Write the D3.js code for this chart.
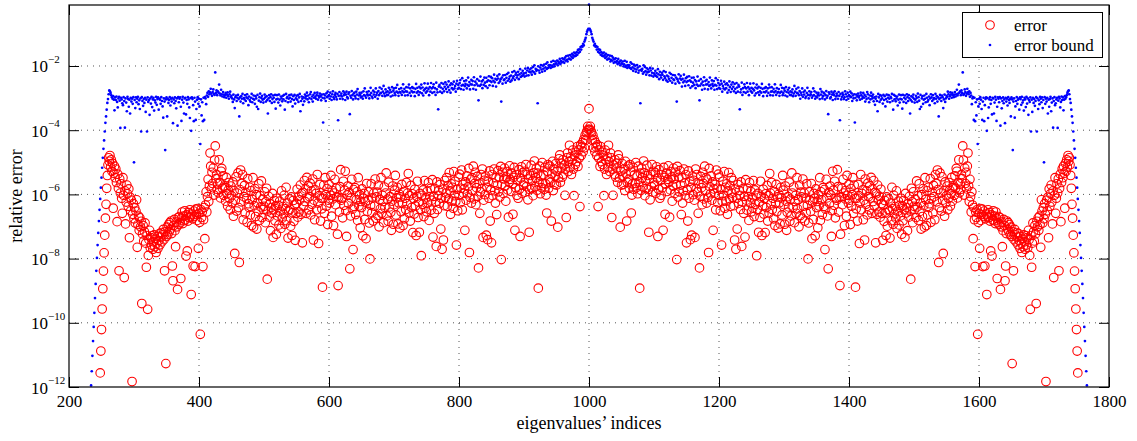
<!DOCTYPE html>
<head>
  <meta charset="utf-8">
  <script src="https://d3js.org/d3.v7.min.js"></script>
  <style>
    body { margin:0; background:#fff; }
    text { font-family: "Liberation Serif", "Times New Roman", serif; fill:#000; }
    .grid line { stroke:#555; stroke-width:1; stroke-dasharray:1,5; }
  </style>
</head>
<body>
<script>
// values are log10 of the relative error, in hundredths of a decade (-600 -> 1e-6)
// left arrays end at index 999, right arrays start at index 1001
var peakIndex = 1000;
var errorPeak = -333;
var boundPeak = -9;

var errorLeft = [
-1156,-1088,
-1021,-957,-894,-839,-782,-727,-674,-631,-581,-541,
-508,-486,-497,-479,-515,-492,-528,-503,-643,-534,
-512,-548,-521,-563,-685,-537,-581,-838,-552,-596,
-567,-612,-659,-548,-603,-859,-589,-692,-624,-571,
-598,-637,-583,-735,-609,-651,-618,-1183,-662,-629,
-676,-641,-689,-652,-617,-765,-694,-668,-712,-673,
-701,-684,-940,-723,-697,-745,-716,-689,-752,-827,
-728,-958,-790,-741,-712,-766,-735,-758,-729,-771,
-748,-726,-763,-739,-781,-752,-731,-768,-744,-722,
-757,-733,-719,-748,-726,-709,-741,-838,-717,-1127,
-731,-702,-725,-694,-716,-688,-709,-683,-722,-823,
-869,-697,-678,-713,-763,-686,-701,-896,-672,-694,
-669,-688,-862,-674,-655,-691,-668,-682,-651,-679,
-792,-664,-776,-683,-657,-672,-648,-669,-912,-661,
-676,-823,-652,-669,-825,-646,-663,-681,-644,-768,
-659,-687,-1036,-648,-672,-655,-825,-679,-641,-738,
-633,-592,-655,-607,-553,-622,-574,-471,-512,-583,
-531,-566,-518,-602,-493,-449,-551,-538,-584,-567,
-595,-492,-563,-611,-528,-519,-581,-542,-603,-574,
-579,-621,-547,-598,-636,-587,-563,-612,-648,-574,
-604,-627,-561,-668,-589,-784,-618,-545,-652,-596,
-533,-641,-812,-585,-524,-623,-566,-538,-679,-607,
-572,-658,-594,-613,-687,-551,-629,-641,-578,-664,
-589,-697,-616,-548,-702,-635,-582,-669,-601,-708,
-626,-653,-567,-681,-604,-639,-558,-672,-615,-647,
-637,-592,-688,-623,-581,-864,-652,-606,-671,-629,
-713,-641,-658,-597,-734,-648,-619,-682,-636,-724,
-612,-667,-634,-695,-621,-653,-706,-589,-674,-638,
-661,-603,-693,-645,-578,-682,-627,-736,-651,-614,
-646,-699,-608,-728,-657,-619,-684,-633,-743,-659,
-628,-584,-671,-606,-655,-617,-571,-662,-598,-751,
-594,-636,-557,-622,-583,-659,-547,-611,-573,-648,
-607,-565,-664,-589,-631,-552,-742,-618,-679,-586,
-597,-648,-538,-627,-753,-604,-569,-683,-612,-645,
-889,-612,-571,-659,-548,-601,-637,-582,-694,-618,
-569,-627,-603,-541,-668,-588,-614,-697,-596,-553,
-632,-581,-608,-724,-884,-609,-655,-576,-523,-618,
-612,-673,-559,-634,-587,-528,-651,-731,-602,-574,
-628,-594,-832,-667,-611,-553,-646,-772,-585,-638,
-579,-663,-617,-592,-681,-548,-636,-601,-704,-622,
-641,-583,-729,-612,-597,-678,-624,-738,-566,-653,
-618,-592,-689,-801,-634,-567,-657,-611,-683,-596,
-637,-552,-674,-608,-593,-666,-571,-701,-616,-645,
-548,-659,-603,-622,-688,-577,-641,-596,-533,-667,
-615,-684,-562,-639,-607,-656,-712,-621,-574,-693,
-632,-587,-541,-664,-611,-578,-692,-626,-599,-705,
-608,-654,-569,-627,-697,-591,-676,-612,-647,-563,
-629,-596,-535,-658,-604,-683,-572,-641,-598,-719,
-613,-661,-584,-636,-728,-606,-559,-672,-624,-718,
-597,-648,-791,-603,-631,-586,-669,-557,-642,-611,
-654,-591,-626,-563,-681,-607,-582,-649,-618,-554,
-733,-606,-659,-582,-624,-762,-561,-647,-603,-588,
-628,-569,-708,-612,-771,-584,-742,-635,-557,-609,
-596,-548,-637,-573,-614,-532,-589,-662,-567,-621,
-578,-643,-529,-604,-559,-622,-758,-584,-651,-546,
-603,-537,-626,-581,-524,-648,-569,-597,-583,-712,
-561,-618,-542,-598,-576,-519,-781,-609,-553,-627,
-548,-589,-512,-614,-566,-531,-632,-579,-544,-606,
-829,-567,-659,-592,-538,-583,-521,-734,-618,-556,
-601,-543,-727,-578,-741,-559,-612,-527,-683,-586,
-751,-538,-604,-565,-521,-589,-627,-548,-663,-571,
-526,-592,-547,-608,-513,-803,-569,-531,-597,-552,
-518,-574,-621,-546,-529,-586,-671,-562,-511,-553,
-591,-534,-568,-662,-547,-516,-712,-579,-538,-603,
-556,-612,-523,-584,-731,-549,-514,-597,-532,-571,
-564,-528,-593,-507,-576,-538,-617,-552,-718,-585,
-541,-509,-582,-557,-604,-533,-496,-576,-548,-518,
-587,-534,-892,-561,-512,-598,-543,-579,-501,-566,
-539,-584,-516,-567,-602,-658,-528,-507,-581,-553,
-512,-562,-683,-536,-497,-588,-521,-569,-543,-504,
-571,-528,-702,-549,-489,-477,-562,-518,-503,-546,
-492,-537,-508,-603,-521,-672,-486,-471,-529,-498,
-447,-516,-482,-538,-493,-462,-521,-604,-478,-507,
-469,-498,-451,-513,-462,-487,-638,-446,-479,-452,
-438,-467,-429,-455,-416,-431,-408,-402,-388,-397
];

var errorRight = [
-397,-388,-402,-408,-431,-416,-455,-429,-467,-438,
-452,-479,-446,-638,-487,-462,-513,-451,-498,-469,
-507,-478,-604,-521,-462,-493,-538,-482,-516,-447,
-498,-529,-471,-486,-672,-521,-603,-508,-537,-492,
-546,-503,-518,-562,-477,-489,-549,-702,-528,-571,
-504,-543,-569,-521,-588,-497,-536,-683,-562,-512,
-553,-581,-507,-528,-658,-602,-567,-516,-584,-539,
-566,-501,-579,-543,-598,-512,-561,-892,-534,-587,
-518,-548,-576,-496,-533,-604,-557,-582,-509,-541,
-585,-718,-552,-617,-538,-576,-507,-593,-528,-564,
-571,-532,-597,-514,-549,-731,-584,-523,-612,-556,
-603,-538,-579,-712,-516,-547,-662,-568,-534,-591,
-553,-511,-562,-671,-586,-529,-546,-621,-574,-518,
-552,-597,-531,-569,-803,-513,-608,-547,-592,-526,
-571,-663,-548,-627,-589,-521,-565,-604,-538,-751,
-586,-683,-527,-612,-559,-741,-578,-727,-543,-601,
-556,-618,-734,-521,-583,-538,-592,-659,-567,-829,
-606,-544,-579,-632,-531,-566,-614,-512,-589,-548,
-627,-553,-609,-781,-519,-576,-598,-542,-618,-561,
-712,-583,-597,-569,-648,-524,-581,-626,-537,-603,
-546,-651,-584,-758,-622,-559,-604,-529,-643,-578,
-621,-567,-662,-589,-532,-614,-573,-637,-548,-596,
-609,-557,-635,-742,-584,-771,-612,-708,-569,-628,
-588,-603,-647,-561,-762,-624,-582,-659,-606,-733,
-554,-618,-649,-582,-607,-681,-563,-626,-591,-654,
-611,-642,-557,-669,-586,-631,-603,-791,-648,-597,
-718,-624,-672,-559,-606,-728,-636,-584,-661,-613,
-719,-598,-641,-572,-683,-604,-658,-535,-596,-629,
-563,-647,-612,-676,-591,-697,-627,-569,-654,-608,
-705,-599,-626,-692,-578,-611,-664,-541,-587,-632,
-693,-574,-621,-712,-656,-607,-639,-562,-684,-615,
-667,-533,-596,-641,-577,-688,-622,-603,-659,-548,
-645,-616,-701,-571,-666,-593,-608,-674,-552,-637,
-596,-683,-611,-657,-567,-634,-801,-689,-592,-618,
-653,-566,-738,-624,-678,-597,-612,-729,-583,-641,
-622,-704,-601,-636,-548,-681,-592,-617,-663,-579,
-638,-585,-772,-646,-553,-611,-667,-832,-594,-628,
-574,-602,-731,-651,-528,-587,-634,-559,-673,-612,
-618,-523,-576,-655,-609,-884,-724,-608,-581,-632,
-553,-596,-697,-614,-588,-668,-541,-603,-627,-569,
-618,-694,-582,-637,-601,-548,-659,-571,-612,-889,
-645,-612,-683,-569,-604,-753,-627,-538,-648,-597,
-586,-679,-618,-742,-552,-631,-589,-664,-565,-607,
-648,-573,-611,-547,-659,-583,-622,-557,-636,-594,
-751,-598,-662,-571,-617,-655,-606,-671,-584,-628,
-659,-743,-633,-684,-619,-657,-728,-608,-699,-646,
-614,-651,-736,-627,-682,-578,-645,-693,-603,-661,
-638,-674,-589,-706,-653,-621,-695,-634,-667,-612,
-724,-636,-682,-619,-648,-734,-597,-658,-641,-713,
-629,-671,-606,-652,-864,-581,-623,-688,-592,-637,
-647,-615,-672,-558,-639,-604,-681,-567,-653,-626,
-708,-601,-669,-582,-635,-702,-548,-616,-697,-589,
-664,-578,-641,-629,-551,-687,-613,-594,-658,-572,
-607,-679,-538,-566,-623,-524,-585,-812,-641,-533,
-596,-652,-545,-618,-784,-589,-668,-561,-627,-604,
-574,-648,-612,-563,-587,-636,-598,-547,-621,-579,
-574,-603,-542,-581,-519,-528,-611,-563,-492,-595,
-567,-584,-538,-551,-449,-493,-602,-518,-566,-531,
-583,-512,-471,-574,-622,-553,-607,-655,-592,-633,
-738,-641,-679,-825,-655,-672,-648,-1036,-687,-659,
-768,-644,-681,-663,-646,-825,-669,-652,-823,-676,
-661,-912,-669,-648,-672,-657,-683,-776,-664,-792,
-679,-651,-682,-668,-691,-655,-674,-862,-688,-669,
-694,-672,-896,-701,-686,-763,-713,-678,-697,-869,
-823,-722,-683,-709,-688,-716,-694,-725,-702,-731,
-1127,-717,-838,-741,-709,-726,-748,-719,-733,-757,
-722,-744,-768,-731,-752,-781,-739,-763,-726,-748,
-771,-729,-758,-735,-766,-712,-741,-790,-958,-728,
-827,-752,-689,-716,-745,-697,-723,-940,-684,-701,
-673,-712,-668,-694,-765,-617,-652,-689,-641,-676,
-629,-662,-1183,-618,-651,-609,-735,-583,-637,-598,
-571,-624,-692,-589,-859,-603,-548,-659,-612,-567,
-596,-552,-838,-581,-537,-685,-563,-521,-548,-512,
-534,-643,-503,-528,-492,-515,-479,-497,-486,-508,
-541,-581,-631,-674,-727,-782,-839,-894,-957,-1021,
-1088,-1156
];

var boundLeft = [
-1195,-1151,-1103,-1057,-1013,-969,
-923,-879,-838,-798,-758,-720,-683,-648,-614,-579,
-548,-517,-486,-458,-432,-404,-377,-357,-336,-315,
-303,-288,-276,-279,-284,-291,-297,-302,-294,-305,
-338,-298,-306,-295,-312,-329,-301,-296,-308,-393,
-299,-304,-316,-322,-297,-309,-392,-301,-314,-341,
-296,-303,-327,-305,-348,-299,-311,-302,-318,-297,
-500,-306,-331,-298,-313,-302,-296,-319,-307,-334,
-301,-404,-297,-309,-324,-303,-315,-299,-343,-305,
-404,-298,-312,-306,-352,-301,-317,-296,-328,-304,
-299,-339,-307,-314,-296,-321,-303,-298,-336,-302,
-305,-318,-297,-309,-326,-361,-301,-311,-462,-304,
-298,-357,-303,-315,-306,-297,-323,-302,-311,-299,
-378,-304,-316,-298,-309,-332,-301,-386,-297,-313,
-302,-298,-327,-371,-305,-296,-314,-348,-301,-299,
-351,-306,-318,-297,-304,-329,-362,-300,-402,-298,
-303,-322,-372,-299,-311,-368,-334,-305,-297,-318,
-302,-326,-443,-304,-354,-313,-372,-299,-368,-297,
-301,-319,-292,-284,-296,-279,-288,-282,-271,-286,
-293,-281,-273,-287,-290,-220,-284,-276,-291,-279,
-283,-258,-286,-292,-274,-288,-295,-281,-289,-297,
-291,-284,-299,-289,-282,-294,-302,-288,-280,-296,
-293,-301,-312,-289,-304,-331,-297,-292,-309,-299,
-290,-303,-357,-298,-311,-294,-302,-287,-316,-300,
-304,-291,-309,-298,-288,-301,-322,-295,-306,-311,
-299,-287,-313,-302,-292,-305,-318,-294,-301,-327,
-290,-334,-308,-297,-286,-312,-300,-293,-305,-314,
-302,-289,-298,-311,-294,-306,-348,-301,-291,-309,
-297,-288,-315,-303,-292,-299,-312,-290,-333,-304,
-291,-302,-314,-289,-305,-323,-295,-301,-310,-293,
-304,-290,-336,-309,-287,-300,-296,-313,-302,-291,
-299,-311,-289,-303,-326,-294,-306,-290,-317,-301,
-293,-305,-291,-312,-298,-287,-341,-309,-295,-302,
-321,-298,-310,-289,-301,-294,-283,-304,-292,-313,
-300,-288,-281,-303,-295,-311,-290,-299,-284,-296,
-302,-291,-283,-305,-293,-298,-286,-294,-307,-289,
-299,-376,-288,-301,-292,-309,-285,-297,-280,-294,
-291,-302,-283,-295,-306,-288,-279,-297,-303,-290,
-284,-296,-304,-287,-369,-293,-281,-302,-292,-286,
-295,-303,-279,-291,-284,-306,-289,-280,-297,-301,
-287,-282,-350,-293,-299,-278,-291,-304,-286,-283,
-294,-301,-280,-289,-272,-303,-292,-284,-290,-298,
-283,-295,-302,-279,-291,-270,-293,-299,-281,-288,
-292,-279,-301,-290,-268,-284,-295,-300,-277,-289,
-281,-296,-270,-290,-283,-302,-278,-291,-267,-285,
-284,-271,-293,-280,-262,-286,-294,-273,-282,-291,
-279,-290,-268,-283,-274,-295,-281,-266,-292,-277,
-270,-284,-291,-268,-280,-259,-283,-293,-272,-281,
-283,-269,-290,-278,-257,-282,-271,-292,-279,-266,
-280,-291,-267,-258,-284,-270,-293,-278,-266,-282,
-269,-281,-294,-271,-256,-283,-268,-279,-290,-265,
-282,-270,-258,-285,-267,-292,-276,-254,-271,-283,
-268,-279,-255,-272,-291,-266,-280,-253,-270,-284,
-266,-257,-281,-269,-290,-252,-273,-282,-335,-264,
-259,-280,-267,-253,-284,-271,-256,-279,-265,-251,
-272,-258,-281,-266,-248,-275,-260,-283,-254,-269,
-257,-273,-249,-270,-262,-280,-255,-246,-271,-259,
-268,-253,-244,-272,-261,-238,-259,-274,-247,-263,
-256,-245,-270,-259,-236,-262,-250,-273,-257,-243,
-258,-247,-271,-235,-260,-249,-274,-255,-241,-261,
-307,-246,-262,-233,-258,-248,-269,-244,-259,-236,
-252,-263,-237,-249,-268,-245,-232,-260,-247,-234,
-250,-238,-262,-246,-227,-251,-240,-264,-243,-231,
-239,-253,-226,-248,-241,-311,-236,-255,-229,-244,
-242,-228,-252,-237,-225,-246,-221,-240,-233,-249,
-230,-245,-219,-238,-232,-216,-243,-227,-221,-236,
-229,-218,-241,-226,-210,-234,-222,-231,-215,-228,
-223,-233,-208,-221,-230,-214,-206,-229,-218,-211,
-220,-207,-227,-216,-203,-219,-198,-224,-209,-215,
-212,-316,-201,-214,-221,-205,-197,-211,-218,-199,
-208,-196,-215,-204,-193,-209,-189,-206,-198,-202,
-197,-206,-187,-199,-203,-184,-195,-201,-186,-193,
-192,-183,-198,-186,-191,-178,-194,-185,-189,-176,
-187,-179,-190,-174,-183,-169,-181,-186,-168,-177,
-178,-166,-180,-171,-162,-175,-167,-158,-170,-161,
-168,-157,-165,-150,-159,-148,-156,-141,-149,-138,
-140,-131,-136,-124,-118,-112,-101,-93,-88,-84
];

var boundRight = [
-84,-88,-93,-101,-112,-118,-124,-136,-131,-140,
-138,-149,-141,-156,-148,-159,-150,-165,-157,-168,
-161,-170,-158,-167,-175,-162,-171,-180,-166,-178,
-177,-168,-186,-181,-169,-183,-174,-190,-179,-187,
-176,-189,-185,-194,-178,-191,-186,-198,-183,-192,
-193,-186,-201,-195,-184,-203,-199,-187,-206,-197,
-202,-198,-206,-189,-209,-193,-204,-215,-196,-208,
-199,-218,-211,-197,-205,-221,-214,-201,-316,-212,
-215,-209,-224,-198,-219,-203,-216,-227,-207,-220,
-211,-218,-229,-206,-214,-230,-221,-208,-233,-223,
-228,-215,-231,-222,-234,-210,-226,-241,-218,-229,
-236,-221,-227,-243,-216,-232,-238,-219,-245,-230,
-249,-233,-240,-221,-246,-225,-237,-252,-228,-242,
-244,-229,-255,-236,-311,-241,-248,-226,-253,-239,
-231,-243,-264,-240,-251,-227,-246,-262,-238,-250,
-234,-247,-260,-232,-245,-268,-249,-237,-263,-252,
-236,-259,-244,-269,-248,-258,-233,-262,-246,-307,
-261,-241,-255,-274,-249,-260,-235,-271,-247,-258,
-243,-257,-273,-250,-262,-236,-259,-270,-245,-256,
-263,-247,-274,-259,-238,-261,-272,-244,-253,-268,
-259,-271,-246,-255,-280,-262,-270,-249,-273,-257,
-269,-254,-283,-260,-275,-248,-266,-281,-258,-272,
-251,-265,-279,-256,-271,-284,-253,-267,-280,-259,
-264,-335,-282,-273,-252,-290,-269,-281,-257,-266,
-284,-270,-253,-280,-266,-291,-272,-255,-279,-268,
-283,-271,-254,-276,-292,-267,-285,-258,-270,-282,
-265,-290,-279,-268,-283,-256,-271,-294,-281,-269,
-282,-266,-278,-293,-270,-284,-258,-267,-291,-280,
-266,-279,-292,-271,-282,-257,-278,-290,-269,-283,
-281,-272,-293,-283,-259,-280,-268,-291,-284,-270,
-277,-292,-266,-281,-295,-274,-283,-268,-290,-279,
-291,-282,-273,-294,-286,-262,-280,-293,-271,-284,
-285,-267,-291,-278,-302,-283,-290,-270,-296,-281,
-289,-277,-300,-295,-284,-268,-290,-301,-279,-292,
-288,-281,-299,-293,-270,-291,-279,-302,-295,-283,
-298,-290,-284,-292,-303,-272,-289,-280,-301,-294,
-283,-286,-304,-291,-278,-299,-293,-350,-282,-287,
-301,-297,-280,-289,-306,-284,-291,-279,-303,-295,
-286,-292,-302,-281,-293,-369,-287,-304,-296,-284,
-290,-303,-297,-279,-288,-306,-295,-283,-302,-291,
-294,-280,-297,-285,-309,-292,-301,-288,-376,-299,
-289,-307,-294,-286,-298,-293,-305,-283,-291,-302,
-296,-284,-299,-290,-311,-295,-303,-281,-288,-300,
-313,-292,-304,-283,-294,-301,-289,-310,-298,-321,
-302,-295,-309,-341,-287,-298,-312,-291,-305,-293,
-301,-317,-290,-306,-294,-326,-303,-289,-311,-299,
-291,-302,-313,-296,-300,-287,-309,-336,-290,-304,
-293,-310,-301,-295,-323,-305,-289,-314,-302,-291,
-304,-333,-290,-312,-299,-292,-303,-315,-288,-297,
-309,-291,-301,-348,-306,-294,-311,-298,-289,-302,
-314,-305,-293,-300,-312,-286,-297,-308,-334,-290,
-327,-301,-294,-318,-305,-292,-302,-313,-287,-299,
-311,-306,-295,-322,-301,-288,-298,-309,-291,-304,
-300,-316,-287,-302,-294,-311,-298,-357,-303,-290,
-299,-309,-292,-297,-331,-304,-289,-312,-301,-293,
-296,-280,-288,-302,-294,-282,-289,-299,-284,-291,
-297,-289,-281,-295,-288,-274,-292,-286,-258,-283,
-279,-291,-276,-284,-220,-290,-287,-273,-281,-293,
-286,-271,-282,-288,-279,-296,-284,-292,-319,-301,
-297,-368,-299,-372,-313,-354,-304,-443,-326,-302,
-318,-297,-305,-334,-368,-311,-299,-372,-322,-303,
-298,-402,-300,-362,-329,-304,-297,-318,-306,-351,
-299,-301,-348,-314,-296,-305,-371,-327,-298,-302,
-313,-297,-386,-301,-332,-309,-298,-316,-304,-378,
-299,-311,-302,-323,-297,-306,-315,-303,-357,-298,
-304,-462,-311,-301,-361,-326,-309,-297,-318,-305,
-302,-336,-298,-303,-321,-296,-314,-307,-339,-299,
-304,-328,-296,-317,-301,-352,-306,-312,-298,-404,
-305,-343,-299,-315,-303,-324,-309,-297,-404,-301,
-334,-307,-319,-296,-302,-313,-298,-331,-306,-500,
-297,-318,-302,-311,-299,-348,-305,-327,-303,-296,
-341,-314,-301,-392,-309,-297,-322,-316,-304,-299,
-393,-308,-296,-301,-329,-312,-295,-306,-298,-338,
-305,-294,-302,-297,-291,-284,-279,-276,-288,-303,
-315,-336,-357,-377,-404,-432,-458,-486,-517,-548,
-579,-614,-648,-683,-720,-758,-798,-838,-879,-923,
-969,-1013,-1057,-1103,-1151,-1195
];

var xTicks = [200, 400, 600, 800, 1000, 1200, 1400, 1600, 1800];
var yTickExponents = [-12, -10, -8, -6, -4, -2];
var legendLabels = ["error", "error bound"];

// plot box in pixels
var box = { left: 69, right: 1109, top: 5, bottom: 387 };

var svg = d3.select("body").append("svg")
  .attr("width", 1137)
  .attr("height", 441);

var x = d3.scaleLinear().domain([200, 1800]).range([box.left, box.right]);
var y = d3.scaleLog().domain([1e-12, Math.pow(10, -0.1)]).range([box.bottom, box.top]);

function toPoints(left, peak, right) {
  var pts = [];
  var start = peakIndex - left.length;
  left.forEach(function(v, k) { pts.push({ idx: start + k, val: Math.pow(10, v / 100) }); });
  pts.push({ idx: peakIndex, val: Math.pow(10, peak / 100) });
  right.forEach(function(v, k) { pts.push({ idx: peakIndex + 1 + k, val: Math.pow(10, v / 100) }); });
  return pts;
}

var errorPts = toPoints(errorLeft, errorPeak, errorRight);
var boundPts = toPoints(boundLeft, boundPeak, boundRight);
var yTickValues = yTickExponents.map(function(e) { return Math.pow(10, e); });

// dotted grid
var grid = svg.append("g").attr("class", "grid");
grid.selectAll(".gx")
  .data(xTicks.slice(1, -1))
  .enter().append("line")
  .attr("x1", function(d) { return x(d); }).attr("x2", function(d) { return x(d); })
  .attr("y1", box.top).attr("y2", box.bottom);
grid.selectAll(".gy")
  .data(yTickValues.slice(1))
  .enter().append("line")
  .attr("x1", box.left).attr("x2", box.right)
  .attr("y1", function(d) { return y(d); }).attr("y2", function(d) { return y(d); });

// data
svg.append("g").selectAll("circle")
  .data(errorPts)
  .enter().append("circle")
  .attr("cx", function(d) { return x(d.idx); })
  .attr("cy", function(d) { return y(d.val); })
  .attr("r", 4.3)
  .attr("fill", "none")
  .attr("stroke", "#ff0000")
  .attr("stroke-width", 1.1);

svg.append("g").selectAll("circle")
  .data(boundPts)
  .enter().append("circle")
  .attr("cx", function(d) { return x(d.idx); })
  .attr("cy", function(d) { return y(d.val); })
  .attr("r", 1.35)
  .attr("fill", "#0000ff");

// axes, ticks pointing inward on all four sides
function styleAxis(g) {
  g.select(".domain").remove();
  g.selectAll(".tick line").attr("stroke", "#000");
  g.attr("font-family", null).attr("font-size", null);
}

var xAxis = svg.append("g")
  .attr("transform", "translate(0," + box.bottom + ")")
  .call(d3.axisBottom(x).tickValues(xTicks).tickSizeInner(-10).tickSizeOuter(0).tickPadding(8).tickFormat(d3.format("d")))
  .call(styleAxis);
xAxis.selectAll("text").style("font-size", "17px").attr("dy", "0.71em");

svg.append("g")
  .attr("transform", "translate(0," + box.top + ")")
  .call(d3.axisTop(x).tickValues(xTicks).tickSizeInner(-10).tickSizeOuter(0).tickFormat(""))
  .call(styleAxis);

svg.append("g")
  .attr("transform", "translate(" + box.left + ",0)")
  .call(d3.axisLeft(y).tickValues(yTickValues).tickSizeInner(-10).tickSizeOuter(0).tickFormat(""))
  .call(styleAxis);

svg.append("g")
  .attr("transform", "translate(" + box.right + ",0)")
  .call(d3.axisRight(y).tickValues(yTickValues).tickSizeInner(-10).tickSizeOuter(0).tickFormat(""))
  .call(styleAxis);

// 10^k labels
var yLab = svg.append("g").selectAll("text")
  .data(yTickExponents)
  .enter().append("text")
  .attr("x", 31)
  .attr("y", function(e) { return y(Math.pow(10, e)) + 6.5; })
  .style("font-size", "17px");
yLab.append("tspan").text("10");
yLab.append("tspan")
  .attr("dy", -9.5)
  .style("font-size", "11px")
  .text(function(e) { return "\u2212" + Math.abs(e); });

svg.append("rect")
  .attr("x", box.left).attr("y", box.top)
  .attr("width", box.right - box.left).attr("height", box.bottom - box.top)
  .attr("fill", "none").attr("stroke", "#000").attr("stroke-width", 1.2);

svg.append("text")
  .attr("x", (box.left + box.right) / 2)
  .attr("y", 429)
  .attr("text-anchor", "middle")
  .style("font-size", "18px")
  .text("eigenvalues\u2019 indices");

svg.append("text")
  .attr("transform", "translate(22," + (box.top + box.bottom) / 2 + ") rotate(-90)")
  .attr("text-anchor", "middle")
  .style("font-size", "18px")
  .text("relative error");

// legend
var legend = svg.append("g");
legend.append("rect")
  .attr("x", 962.5).attr("y", 12.5)
  .attr("width", 140).attr("height", 45)
  .attr("fill", "#fff").attr("stroke", "#000").attr("stroke-width", 1);
legend.append("circle")
  .attr("cx", 990).attr("cy", 25).attr("r", 4.3)
  .attr("fill", "none").attr("stroke", "#ff0000").attr("stroke-width", 1.1);
legend.append("circle")
  .attr("cx", 990).attr("cy", 45).attr("r", 1.35)
  .attr("fill", "#0000ff");
legend.selectAll(".lt")
  .data(legendLabels)
  .enter().append("text")
  .attr("x", 1014)
  .attr("y", function(d, i) { return 31 + i * 20; })
  .style("font-size", "17px")
  .text(function(d) { return d; });
</script>
</body>
